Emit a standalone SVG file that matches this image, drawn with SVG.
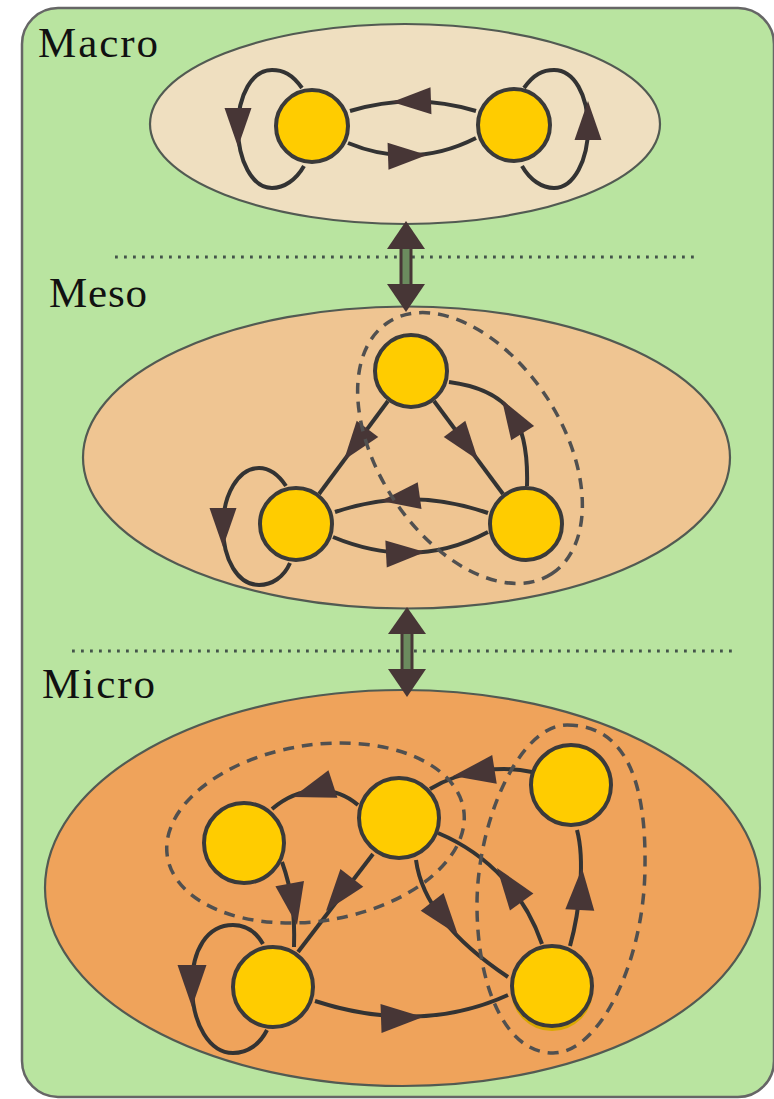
<svg xmlns="http://www.w3.org/2000/svg" xmlns:xlink="http://www.w3.org/1999/xlink" width="774" height="1099" viewBox="0 0 774 1099">
  <style>
    .panel { fill: #b9e4a0; stroke: #666666; stroke-width: 2.5; }
    .scale { stroke: #525a52; stroke-width: 2.2; }
    .node { fill: #ffcc00; stroke: #3a3a3a; stroke-width: 4; }
    .edge { fill: none; stroke: #333333; stroke-width: 4; }
    .head { fill: #473636; }
    .group { fill: none; stroke: #505050; stroke-width: 3.5; stroke-dasharray: 11 8; }
    .sep { fill: none; stroke: #44544a; stroke-width: 2.8; stroke-dasharray: 2.8 6.2; }
    .shaft { stroke: #473636; stroke-width: 13; }
    .shaft-in { stroke: #6b8b5e; stroke-width: 7; }
    .label { font-family: 'Liberation Serif', 'DejaVu Serif', 'Times New Roman', serif; font-size: 43px; fill: #111111; }
  </style>
  <defs>
    <!-- arrowhead with its tip at the origin, pointing along +x -->
    <path id="ah" class="head" d="M0,0 L-39,-13.5 L-39,13.5 Z"/>
    <path id="ahL" class="head" d="M0,0 L-42,-14.5 L-42,14.5 Z"/>
  </defs>

  <!-- background panel -->
  <rect class="panel" x="22" y="8" width="752" height="1089" rx="36" ry="36"/>

  <!-- level separators -->
  <g id="separators">
    <line class="sep" x1="115" y1="257" x2="700" y2="257"/>
    <line class="sep" x1="72" y1="651" x2="732" y2="651"/>
  </g>

  <!-- labels -->
  <g id="labels">
    <text class="label" x="38" y="57" textLength="120">Macro</text>
    <text class="label" x="49" y="307" textLength="98">Meso</text>
    <text class="label" x="42" y="698" textLength="113">Micro</text>
  </g>

  <!-- scale ellipses -->
  <g id="macro-level">
    <ellipse class="scale" cx="405" cy="124" rx="255" ry="100" fill="#efdfc0"/>
  </g>
  <g id="meso-level">
    <ellipse class="scale" cx="406.5" cy="457.5" rx="323.5" ry="151" fill="#efc592"/>
  </g>
  <g id="micro-level">
    <ellipse class="scale" cx="402.5" cy="888" rx="357.5" ry="198" fill="#efa35b"/>
  </g>

  <!-- connectors -->
  <g id="connectors">
    <!-- macro -->
    <path class="edge" d="M350,111 Q413,92 476,111"/>
    <path class="edge" d="M348,143 Q413,170 476,138"/>
    <path class="edge" d="M302,88 C292,74 283,70 272,70 C252,70 238,95 238,128 C238,160 252,188 272,188 C284,188 296,180 304,166"/>
    <path class="edge" d="M524,88 C534,74 543,70 554,70 C574,70 588,95 588,128 C588,160 574,188 554,188 C542,188 530,180 522,166"/>
    <use xlink:href="#ah" transform="translate(392,102) rotate(178)"/>
    <use xlink:href="#ah" transform="translate(427,155) rotate(-2)"/>
    <use xlink:href="#ah" transform="translate(238,147) rotate(90)"/>
    <use xlink:href="#ah" transform="translate(588,101) rotate(-90)"/>

    <!-- meso -->
    <path class="edge" d="M388,401 L319,494"/>
    <path class="edge" d="M434,401 L503,494"/>
    <path class="edge" d="M527,486 C529,420 510,390 449,382"/>
    <path class="edge" d="M488,513 Q411,486 335,512"/>
    <path class="edge" d="M333,537 Q415,571 488,532"/>
    <path class="edge" d="M286,486 C278,474 268,468 259,468 C238,468 223,495 223,527 C223,560 238,585 259,585 C272,585 284,577 290,563"/>
    <use xlink:href="#ah" transform="translate(344,460) rotate(127)"/>
    <use xlink:href="#ah" transform="translate(478,460) rotate(53)"/>
    <use xlink:href="#ah" transform="translate(502,400) rotate(-122)"/>
    <use xlink:href="#ah" transform="translate(381,501) rotate(172)"/>
    <use xlink:href="#ah" transform="translate(425,552) rotate(-3)"/>
    <use xlink:href="#ah" transform="translate(223,547) rotate(90)"/>

    <!-- micro -->
    <path class="edge" d="M358,805 C335,785 300,785 272,809"/>
    <path class="edge" d="M282,862 C292,890 295,915 294,947"/>
    <path class="edge" d="M373,854 L298,952"/>
    <path class="edge" d="M263,944 C255,930 244,925 233,925 C207,925 192,950 192,985 C192,1025 210,1053 233,1053 C248,1053 260,1044 267,1030"/>
    <path class="edge" d="M315,1001 Q420,1035 508,995"/>
    <path class="edge" d="M416,860 C422,905 460,945 508,977"/>
    <path class="edge" d="M542,944 C525,895 490,855 438,833"/>
    <path class="edge" d="M570,946 C580,910 585,860 577,830"/>
    <path class="edge" d="M532,772 C505,766 465,768 430,789"/>
    <use xlink:href="#ahL" transform="translate(293,797) rotate(162)"/>
    <use xlink:href="#ahL" transform="translate(297,925) rotate(80)"/>
    <use xlink:href="#ahL" transform="translate(326,911) rotate(128)"/>
    <use xlink:href="#ahL" transform="translate(192,1007) rotate(90)"/>
    <use xlink:href="#ahL" transform="translate(423,1017) rotate(-2)"/>
    <use xlink:href="#ahL" transform="translate(458,935) rotate(52)"/>
    <use xlink:href="#ahL" transform="translate(497,868) rotate(-126)"/>
    <use xlink:href="#ahL" transform="translate(582,868) rotate(-87)"/>
    <use xlink:href="#ahL" transform="translate(453,776) rotate(171)"/>

    <!-- links between levels -->
    <line class="shaft" x1="406" y1="247" x2="406" y2="286"/>
    <line class="shaft-in" x1="406" y1="247" x2="406" y2="286"/>
    <path class="head" d="M406,221 L387,249 L425,249 Z"/>
    <path class="head" d="M406,312 L387,284 L425,284 Z"/>
    <line class="shaft" x1="407" y1="632" x2="407" y2="671"/>
    <line class="shaft-in" x1="407" y1="632" x2="407" y2="671"/>
    <path class="head" d="M407,607 L388,634 L426,634 Z"/>
    <path class="head" d="M407,697 L388,669 L426,669 Z"/>
  </g>

  <!-- groupings -->
  <g id="groups">
    <ellipse class="group" cx="470" cy="448" rx="150" ry="92" transform="rotate(57 470 448)"/>
    <ellipse class="group" cx="315.5" cy="833" rx="150" ry="88" transform="rotate(-9 315.5 833)"/>
    <path class="group" d="M567,725 C625,725 646,780 645,865 C645,960 600,1053 553,1053 C505,1053 477,985 477,905 C477,820 520,725 567,725 Z"/>
  </g>

  <!-- macro nodes -->
  <g id="macro-a"><circle class="node" cx="312" cy="126" r="36"/></g>
  <g id="macro-b"><circle class="node" cx="514" cy="125" r="36"/></g>

  <!-- meso nodes -->
  <g id="meso-top"><circle class="node" cx="411" cy="371" r="36"/></g>
  <g id="meso-left"><circle class="node" cx="296" cy="524" r="36"/></g>
  <g id="meso-right"><circle class="node" cx="526" cy="524" r="36"/></g>

  <!-- micro nodes -->
  <g id="micro-a"><circle class="node" cx="244" cy="843" r="40"/></g>
  <g id="micro-b"><circle class="node" cx="399" cy="818" r="40"/></g>
  <g id="micro-c"><circle class="node" cx="273" cy="987" r="40"/></g>
  <g id="micro-d"><circle class="node" cx="571" cy="785" r="40"/></g>
  <g id="micro-e">
    <circle cx="552" cy="990" r="41" fill="#d9a800"/>
    <circle class="node" cx="552" cy="986" r="40"/>
  </g>
</svg>
